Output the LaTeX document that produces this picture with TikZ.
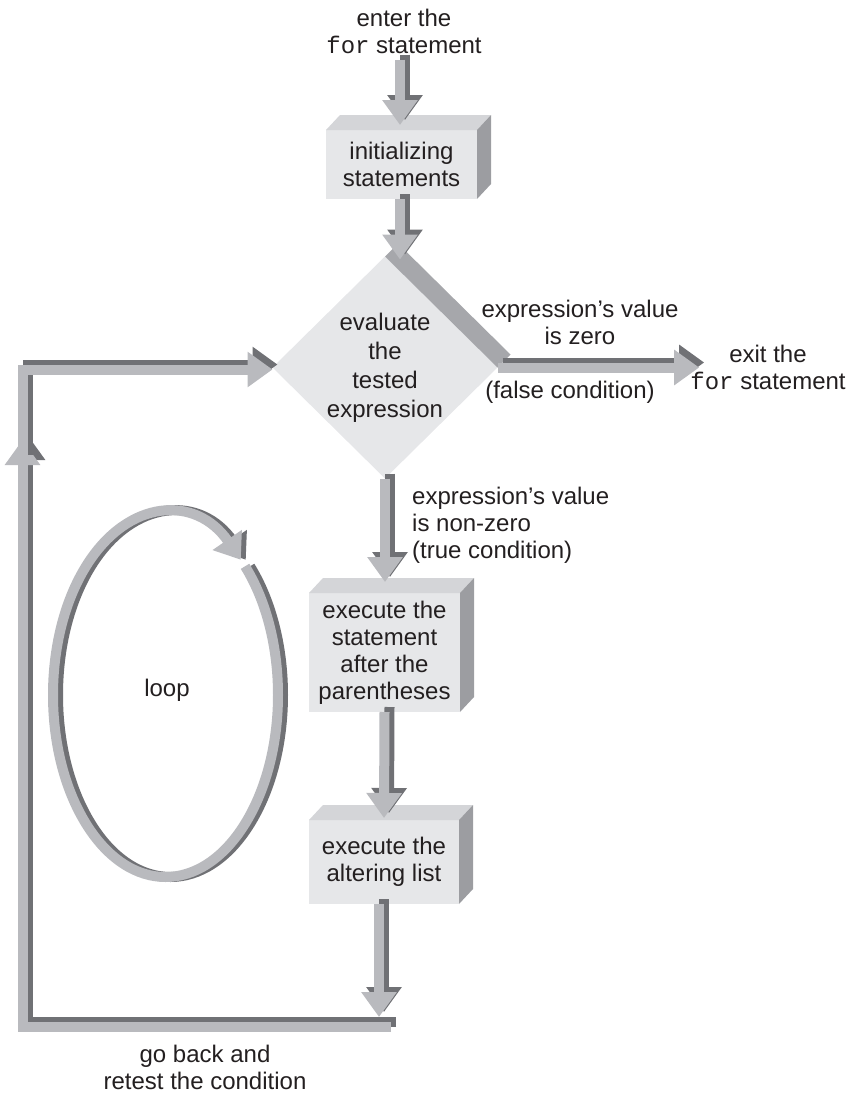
\documentclass[tikz,border=0pt]{standalone}
\usepackage{fontspec}
\setmainfont{Liberation Sans}
\setmonofont{Liberation Mono}
\usetikzlibrary{arrows.meta, calc, shapes.geometric}

\definecolor{facefront}{RGB}{230,231,233}
\definecolor{facetop}{RGB}{212,213,216}
\definecolor{faceside}{RGB}{156,157,161}
\definecolor{faceband}{RGB}{166,167,171}
\definecolor{arrowlight}{RGB}{185,186,190}
\definecolor{arrowdark}{RGB}{112,113,117}
\definecolor{ink}{RGB}{35,31,32}

\begin{document}
\begin{tikzpicture}[x=1pt, y=-1pt, font=\fontsize{24}{27}\selectfont,
    block/.style={fill=facefront, inner sep=0pt, outer sep=0pt, minimum width=151pt, align=center, text=ink},
    decide/.style={diamond, fill=facefront, inner sep=0pt, outer sep=0pt, minimum width=225pt, minimum height=222pt},
    txt/.style={inner sep=0pt, align=center, text=ink},
    flow/.style={line width=10pt, draw=arrowlight, -{Triangle[length=25pt, width=34pt]},
        preaction={draw=arrowdark, line width=10pt, transform canvas={shift={(5pt,5pt)}}}},
    ringflow/.style={line width=10pt, draw=arrowlight, -{Triangle[length=24pt, width=34pt]},
        preaction={draw=arrowdark, line width=10pt, transform canvas={shift={(5pt,0pt)}}}}]

\useasboundingbox (0,0) rectangle (852,1095);

%
\node[block, minimum height=69pt] (init) at (401.5,164.5) {initializing\\statements};
\node[decide] (test) at (385,367.5) {};
\node[block, minimum height=119pt] (body) at (384.5,652.5) {execute the\\statement\\after the\\parentheses};
\node[block, minimum height=84pt, minimum width=150pt] (alter) at (384,862) {execute the\\altering list};

\foreach \b in {init, body, alter} {
  \fill[facetop] (\b.north west) -- ++(14,-15) -- ($(\b.north east)+(14,-15)$) -- (\b.north east) -- cycle;
  \fill[faceside] (\b.north east) -- ++(14,-15) -- ($(\b.south east)+(14,-15)$) -- (\b.south east) -- cycle;
}
\fill[faceband] (test.north) -- ++(13,-13) -- ($(test.east)+(13,-13)$) -- (test.east) -- cycle;
\node[txt, font=\fontsize{24}{29}\selectfont] (testtext) at (test.center) {evaluate\\the\\tested\\expression};

%
\node[txt] (enter) at (404,31) {enter the\\\texttt{for} statement};
\node[txt] (zero) at (580,322) {expression’s value\\is zero};
\node[txt] (false) at (570,392) {(false condition)};
\node[txt] (exit) at (768,367) {exit the\\\texttt{for} statement};
\node[txt, anchor=west, align=left] (nonzero) at (412,525) {expression’s value\\is non-zero\\(true condition)};
\node[txt] (back) at (205,1067) {go back and\\retest the condition};
\node[txt] (loop) at (167,690) {loop};

%
\draw[flow] ($(enter.south -| init.north)+(-1.5,6)$) -- ($(init.north)+(-1.5,-5)$);
\draw[flow] ($(init.south)+(-1.5,0)$) -- ($(init.south |- test.north)+(-1.5,3)$);
\draw[flow] (test.east) -- ($(exit.west |- test.east)+(9,0)$);
\draw[flow] (test.south) -- ($(test.south |- body.north)+(0,-11)$);
\draw[flow] (body.south) -- ($(alter.north)+(0,-2)$);

%
\coordinate (drop) at (379,1017);
\coordinate (turn) at (391,1027);
\coordinate (rise) at (22.5,440);
\draw[flow] (turn) -| (rise);
\draw[flow] ($(rise)+(0,20)$) |- ($(test.west)+(0,2)$);
\draw[flow] (alter.south -| drop) -- (drop);

%
\coordinate (ringc) at (165.5,695);
\draw[ringflow] ($(ringc)+(-45:112.5 and 182)$) arc[start angle=-45, end angle=312, x radius=112.5, y radius=182];
\end{tikzpicture}
\end{document}
